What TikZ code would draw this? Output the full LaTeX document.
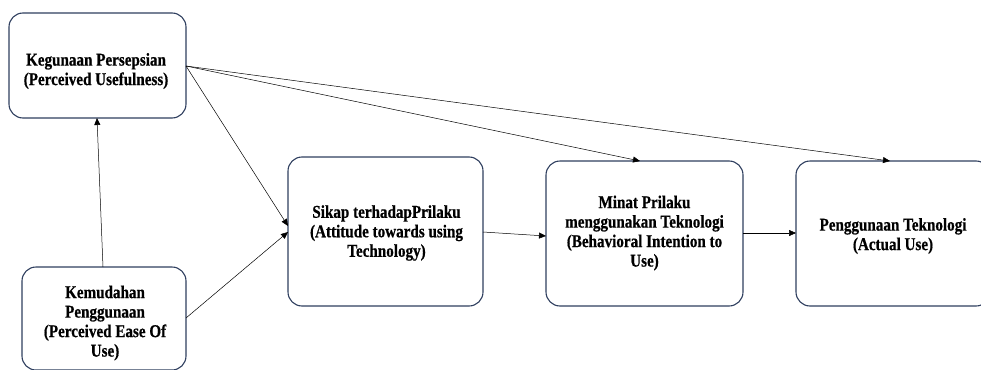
\documentclass[tikz,border=0pt]{standalone}
\usepackage{fontspec}
\setmainfont{Liberation Serif}
\newfontfamily\lblfont[FakeStretch=0.84,FakeBold=0.6]{Liberation Serif Bold}
\usetikzlibrary{arrows.meta}
\definecolor{boxline}{HTML}{2F3F5F}
\begin{document}
\begin{tikzpicture}[x=1pt,y=-1pt,
  box/.style={draw=boxline,line width=1.1pt,rounded corners=14pt,fill=white},
  lbl/.style={align=center,font=\lblfont\fontsize{18}{19.5}\selectfont},
  arr/.style={-{Triangle[length=7pt,width=6pt]},line width=0.5pt}]
\useasboundingbox (0,0) rectangle (981,369);
\begin{scope}
\clip (0,0) rectangle (981,369);
\draw[box] (9,13) rectangle (186,118);
\draw[box] (22,267) rectangle (186,370);
\draw[box] (288,157) rectangle (483,306);
\draw[box] (546,161) rectangle (743,306);
\draw[box] (796,161) rectangle (990,306);
\end{scope}
\node[lbl] (t1) at (96,71) {Kegunaan Persepsian\\(Perceived Usefulness)};
\node[lbl] (t2) at (105,323) {Kemudahan\\Penggunaan\\(Perceived Ease Of\\Use)};
\node[lbl] (t3) at (386.5,233) {Sikap terhadapPrilaku\\(Attitude towards using\\Technology)};
\node[lbl] (t4) at (644.5,233) {Minat Prilaku\\menggunakan Teknologi\\(Behavioral Intention to\\Use)};
\node[lbl] (t5) at (893,236) {Penggunaan Teknologi\\(Actual Use)};
\coordinate (p1r) at (186,66);
\coordinate (p1b) at (97,118);
\coordinate (p2t) at (103,267);
\coordinate (p2r) at (186,318);
\coordinate (p3l) at (288,226);
\coordinate (p3l2) at (288,232);
\coordinate (p3r) at (483,232);
\coordinate (p4l) at (546,236);
\coordinate (p4t) at (640,161);
\coordinate (p4r) at (743,233);
\coordinate (p5l) at (796,233);
\coordinate (p5t) at (890,161);
\draw[arr] (p2t) -- (p1b);
\draw[arr] (p1r) -- (p3l);
\draw[arr] (p2r) -- (p3l2);
\draw[arr] (p1r) -- (p4t);
\draw[arr] (p1r) -- (p5t);
\draw[arr] (p3r) -- (p4l);
\draw[arr] (p4r) -- (p5l);
\end{tikzpicture}
\end{document}
